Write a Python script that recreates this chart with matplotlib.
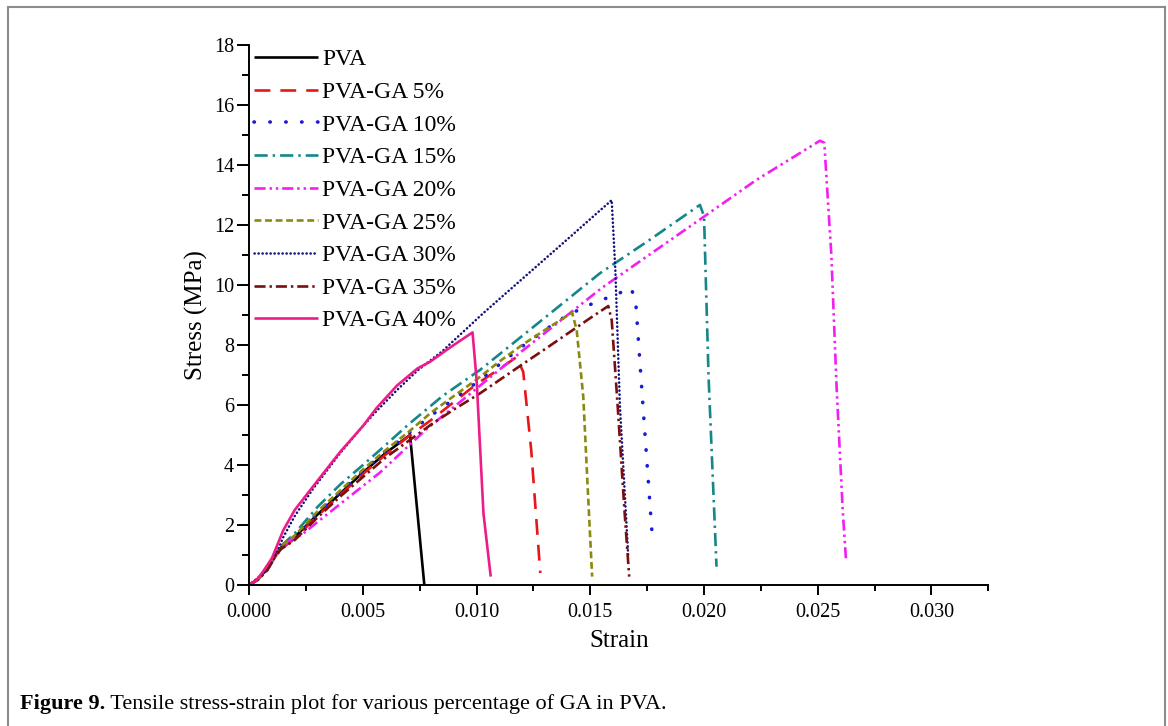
import matplotlib
matplotlib.use("Agg")
import matplotlib.pyplot as plt
from matplotlib.lines import Line2D
from matplotlib.ticker import MultipleLocator

plt.rcParams["font.family"] = ["Liberation Serif", "DejaVu Serif"]

# ---------------------------------------------------------------------------
# data (strain, stress in MPa)
# ---------------------------------------------------------------------------
pva_x = [0, 0.0004, 0.0008, 0.0011, 0.0014, 0.002, 0.003, 0.004, 0.005, 0.006, 0.00707, 0.0077]
pva_y = [0, 0.2, 0.55, 0.95, 1.25, 1.6, 2.35, 3.05, 3.75, 4.4, 5.0, 0.0]

ga5_x = [0, 0.0004, 0.0008, 0.0011, 0.0014, 0.002, 0.003, 0.004, 0.005, 0.006, 0.007,
         0.008, 0.009, 0.010, 0.011, 0.01176, 0.01205, 0.0124, 0.0128]
ga5_y = [0, 0.2, 0.5, 0.9, 1.2, 1.55, 2.3, 3.0, 3.7, 4.35, 4.95,
         5.5, 6.1, 6.7, 7.2, 7.6, 7.1, 4.5, 0.4]

ga10_x = [0, 0.0004, 0.0008, 0.0011, 0.0014, 0.002, 0.003, 0.004, 0.005, 0.006, 0.007,
          0.008, 0.009, 0.010, 0.011, 0.012, 0.013, 0.014, 0.015, 0.016, 0.0165, 0.0168,
          0.0170, 0.01734, 0.01773]
ga10_y = [0, 0.22, 0.55, 0.95, 1.25, 1.6, 2.4, 3.1, 3.8, 4.45, 5.05,
          5.65, 6.2, 6.75, 7.35, 7.95, 8.5, 9.0, 9.35, 9.65, 9.8, 9.9,
          9.4, 5.7, 1.55]

ga15_x = [0, 0.0004, 0.0008, 0.0011, 0.0014, 0.002, 0.003, 0.004, 0.005, 0.00575, 0.007,
          0.0085, 0.01015, 0.012, 0.01542, 0.0176, 0.01982, 0.0200, 0.0202, 0.02055]
ga15_y = [0, 0.22, 0.55, 0.95, 1.3, 1.72, 2.6, 3.35, 4.0, 4.5, 5.35,
          6.3, 7.17, 8.3, 10.39, 11.5, 12.67, 12.3, 6.94, 0.61]

ga20_x = [0, 0.0004, 0.0008, 0.0011, 0.0014, 0.0018, 0.0023, 0.003, 0.004, 0.00575, 0.0078,
          0.010, 0.012, 0.014, 0.0155, 0.0172, 0.020, 0.0223, 0.0251, 0.02529, 0.0256,
          0.02583, 0.0261, 0.02624]
ga20_y = [0, 0.2, 0.5, 0.9, 1.2, 1.5, 1.67, 2.1, 2.7, 3.75, 5.2,
          6.55, 7.8, 9.0, 9.9, 10.8, 12.28, 13.5, 14.81, 14.74, 11.0,
          6.61, 2.5, 0.89]

ga25_x = [0, 0.0004, 0.0008, 0.0011, 0.0014, 0.002, 0.003, 0.004, 0.005, 0.006, 0.007,
          0.008, 0.009, 0.010, 0.011, 0.012, 0.013, 0.0142, 0.0144, 0.01469, 0.0149, 0.01508]
ga25_y = [0, 0.2, 0.55, 0.95, 1.3, 1.65, 2.45, 3.15, 3.85, 4.5, 5.1,
          5.75, 6.3, 6.85, 7.45, 8.0, 8.5, 9.08, 8.5, 6.28, 3.0, 0.28]

ga30_x = [0, 0.0004, 0.0008, 0.0011, 0.0015, 0.002, 0.0028, 0.004, 0.005, 0.0056, 0.0065,
          0.0074, 0.0085, 0.01029, 0.012, 0.014, 0.01594, 0.0161, 0.0163, 0.01667]
ga30_y = [0, 0.25, 0.5, 0.9, 1.6, 2.3, 3.2, 4.4, 5.3, 5.8, 6.5,
          7.15, 7.8, 9.06, 10.2, 11.53, 12.83, 10.5, 6.0, 0.94]

ga35_x = [0, 0.0004, 0.0008, 0.0011, 0.0014, 0.002, 0.003, 0.004, 0.005, 0.006, 0.007,
          0.008, 0.009, 0.01015, 0.011, 0.012, 0.013, 0.014, 0.015, 0.01579, 0.01594,
          0.0162, 0.0165, 0.01671]
ga35_y = [0, 0.18, 0.5, 0.9, 1.2, 1.5, 2.25, 2.95, 3.6, 4.25, 4.8,
          5.35, 5.85, 6.39, 6.83, 7.35, 7.86, 8.38, 8.9, 9.3, 8.83,
          6.0, 2.5, 0.28]

ga40_x = [0, 0.0003, 0.0006, 0.001, 0.0015, 0.002, 0.0028, 0.004, 0.005, 0.0056, 0.0065,
          0.0074, 0.00795, 0.0088, 0.00982, 0.0100, 0.0103, 0.01062]
ga40_y = [0, 0.15, 0.44, 0.9, 1.83, 2.5, 3.28, 4.44, 5.3, 5.9, 6.65,
          7.22, 7.44, 7.9, 8.42, 6.83, 2.39, 0.28]

labels = ["PVA", "PVA-GA 5%", "PVA-GA 10%", "PVA-GA 15%", "PVA-GA 20%",
          "PVA-GA 25%", "PVA-GA 30%", "PVA-GA 35%", "PVA-GA 40%"]

# (color, dash pattern, linewidth, capstyle)
STYLES = [
    ("black",   "-",                            1.9, "butt"),
    ("#e8161b", (0, (6, 3.8)),                  1.9, "butt"),
    ("#1a1adc", (0, (0.1, 4.3)),                2.6, "round"),
    ("#15868a", (0, (5, 1.9, 0.9, 1.9)),        1.9, "butt"),
    ("#f21ef2", (0, (4.2, 1.5, 0.9, 1.5, 0.9, 1.5)), 1.9, "butt"),
    ("#8a8a10", (0, (2.6, 1.4)),                1.9, "butt"),
    ("#10107a", (0, (0.1, 1.5)),                1.8, "round"),
    ("#7a0f0f", (0, (4.2, 1.5, 0.9, 1.5)),      1.9, "butt"),
    ("#ee1c8a", "-",                            1.9, "butt"),
]

series = [(pva_x, pva_y), (ga5_x, ga5_y), (ga10_x, ga10_y), (ga15_x, ga15_y),
          (ga20_x, ga20_y), (ga25_x, ga25_y), (ga30_x, ga30_y), (ga35_x, ga35_y),
          (ga40_x, ga40_y)]

fig = plt.figure(figsize=(11.68, 7.26), dpi=100)
ax = fig.add_axes([0.2134, 0.1942, 0.6327, 0.7438])

for (xs, ys), lab, (col, ls, lw, cap) in zip(series, labels, STYLES):
    ax.plot(xs, ys, color=col, linestyle=ls, linewidth=lw, label=lab,
            dash_capstyle=cap, solid_capstyle="butt")

ax.set_xlim(0, 0.0325)
ax.set_ylim(0, 18)
ax.xaxis.set_major_locator(MultipleLocator(0.005))
ax.xaxis.set_minor_locator(MultipleLocator(0.0025))
ax.yaxis.set_major_locator(MultipleLocator(2))
ax.yaxis.set_minor_locator(MultipleLocator(1))
ax.xaxis.set_major_formatter(plt.FuncFormatter(lambda v, p: f"{v:.3f}"))

for side in ("top", "right"):
    ax.spines[side].set_visible(False)
for side in ("left", "bottom"):
    ax.spines[side].set_linewidth(1.4)

ax.tick_params(axis="y", which="major", direction="out", length=9, width=1.4,
               pad=2, labelsize=14.5)
ax.tick_params(axis="y", which="minor", direction="out", length=5, width=1.4)
ax.tick_params(axis="x", which="major", direction="out", length=7, width=1.4,
               pad=6, labelsize=14.5)
ax.tick_params(axis="x", which="minor", direction="out", length=4, width=1.4)

ax.set_xlabel("Strain", fontsize=18, labelpad=6)
ax.set_ylabel("Stress (MPa)", fontsize=18, labelpad=4)

ax.legend(loc="upper left", bbox_to_anchor=(0.0, 1.0015), frameon=False,
          fontsize=17, handlelength=2.7, handletextpad=0.2, labelspacing=0.47,
          borderaxespad=0.0, borderpad=0.2)

# page frame around the figure (open at the bottom)
fx0, fx1, fy1 = 8 / 1168, 1165 / 1168, 1 - 7 / 726
for xs, ys in [([fx0, fx0], [-0.1, fy1]), ([fx0, fx1], [fy1, fy1]), ([fx1, fx1], [fy1, -0.1])]:
    fig.add_artist(Line2D(xs, ys, transform=fig.transFigure, color="#8c8c8c", linewidth=1.5))

cap1 = fig.text(20 / 1168, 1 - 709 / 726, "Figure 9.", fontsize=16, fontweight="bold",
                ha="left", va="baseline")
ax.annotate(" Tensile stress-strain plot for various percentage of GA in PVA.",
            xy=(1, 0), xycoords=cap1, fontsize=16, ha="left", va="bottom",
            annotation_clip=False)

fig.savefig("out.png", dpi=100)
